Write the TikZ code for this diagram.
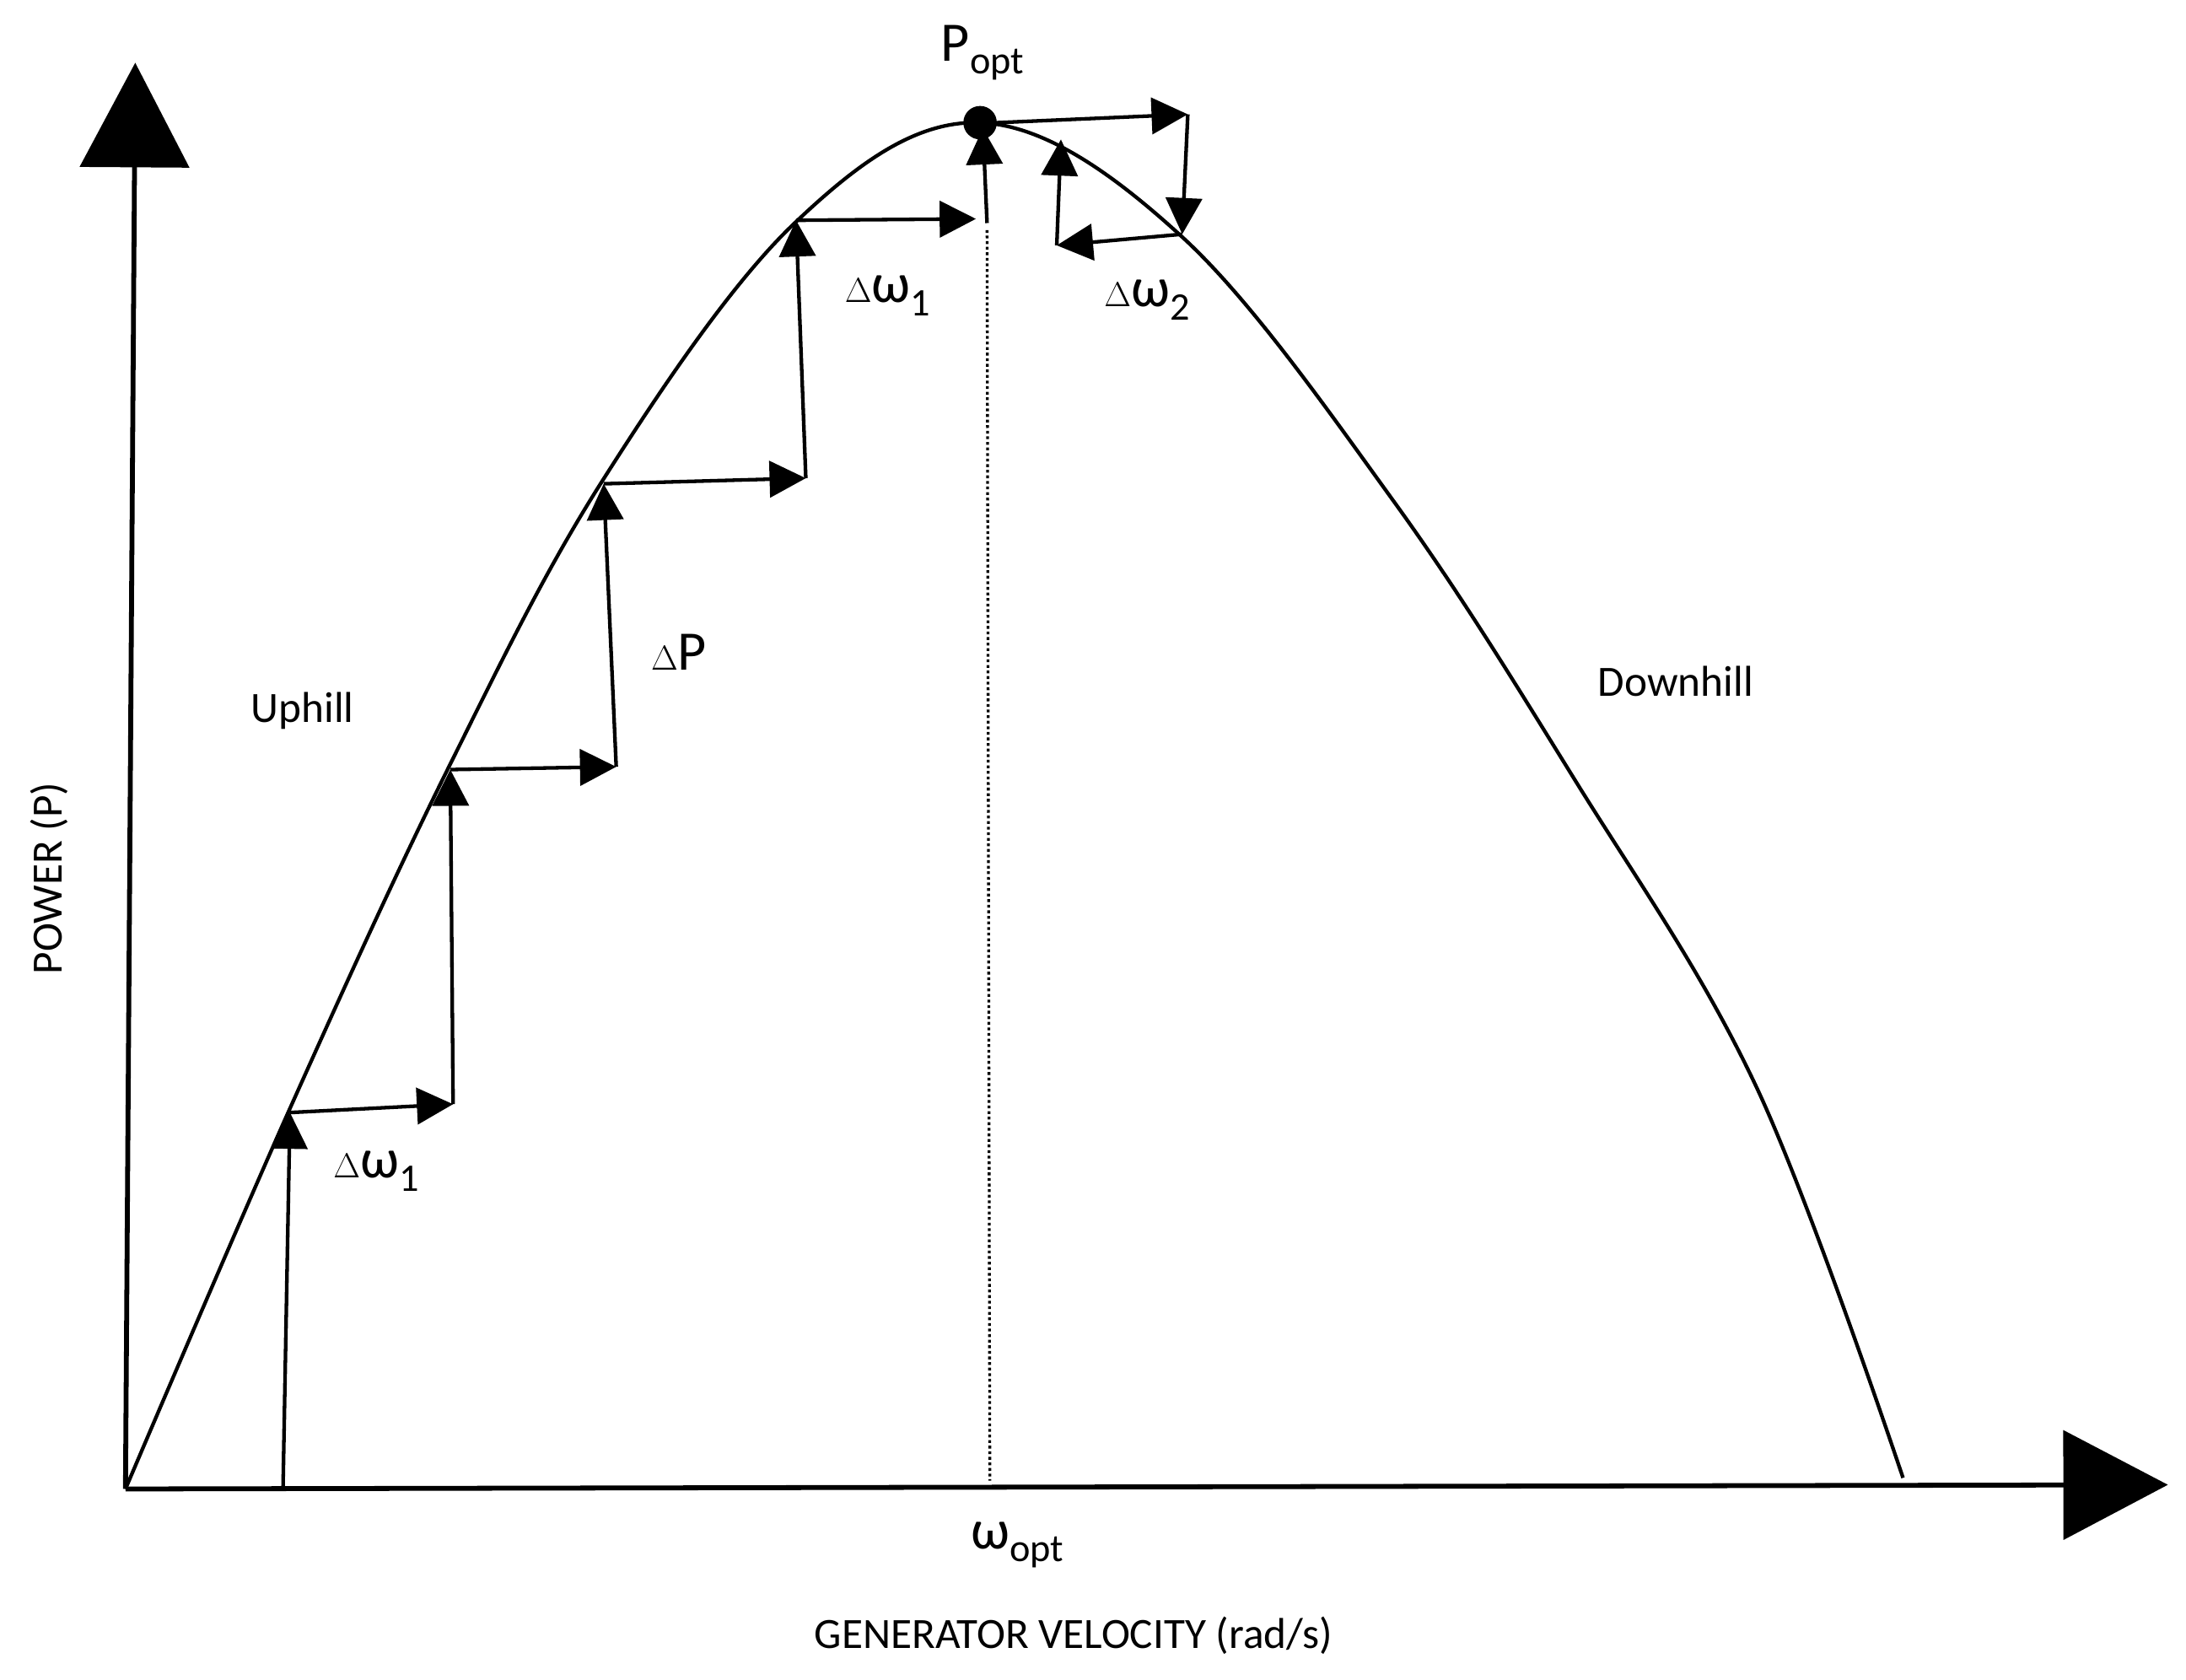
\documentclass[tikz,border=0pt]{standalone}
\usepackage{fontspec}
\setmainfont{Carlito}
\usetikzlibrary{arrows.meta}
\begin{document}
\begin{tikzpicture}[x=1pt,y=-1pt,
  ln/.style={line width=2.6pt},
  st/.style={ln,-{Triangle[length=26pt,width=26pt]}},
  ax/.style={line width=3.5pt,-{Triangle[length=75pt,width=78pt]}},
  big/.style={font=\fontsize{40}{48}\selectfont},
  sm/.style={font=\fontsize{31}{37}\selectfont}]
\useasboundingbox (0,0) rectangle (1568,1205);
\coordinate (O) at (90,1068);
\coordinate (Y) at (97,45);
\coordinate (X) at (1555,1065);
\draw[ax] (O) -- (Y);
\draw[ax] (O) -- (X);
\draw[line width=2.6pt] plot[smooth,tension=0.6] coordinates {(90,1068) (208,795) (322,550) (432,345) (570,160) (703,88) (848,170) (1000,360) (1130,560) (1260,780) (1365,1060)};
\coordinate (a0) at (203,1068); \coordinate (a1) at (208,798);
\coordinate (b1) at (325,792); \coordinate (b2) at (323,552);
\coordinate (c1) at (442,550); \coordinate (c2) at (433,347);
\coordinate (d1) at (578,343); \coordinate (d2) at (571,158);
\coordinate (e1) at (700,157); \coordinate (e2) at (705,92);
\coordinate (P) at (703,88);
\coordinate (f1) at (852,82); \coordinate (f2) at (848,168);
\coordinate (g1) at (758,176); \coordinate (g2) at (761,100);
\draw[st] (a0) -- (a1); \draw[st] (a1) -- (b1); \draw[st] (b1) -- (b2);
\draw[st] (b2) -- (c1); \draw[st] (c1) -- (c2); \draw[st] (c2) -- (d1);
\draw[st] (d1) -- (d2); \draw[st] (d2) -- (e1); \draw[st] (708,160) -- (e2);
\draw[st] (715,88) -- (f1); \draw[st] (f1) -- (f2); \draw[st] (f2) -- (g1); \draw[st] (g1) -- (g2);
\fill (P) circle (12);
\draw[line width=2pt,dotted] (708,165) -- (710,1062);
\node[big] (lp) at (705,38) {P\textsubscript{opt}};
\node[big] (l1) at (637,212) {$\Delta$ω\textsubscript{1}};
\node[big] (l2) at (823,215) {$\Delta$ω\textsubscript{2}};
\node[big] (l3) at (270,840) {$\Delta$ω\textsubscript{1}};
\node[big] (l4) at (487,468) {$\Delta$P};
\node[sm] (u) at (217,510) {Uphill};
\node[sm] (d) at (1202,489) {Downhill};
\node[big] (wo) at (730,1108) {ω\textsubscript{opt}};
\node[sm,rotate=90] (py) at (35,630) {POWER (P)};
\node[sm] (gx) at (770,1173) {GENERATOR VELOCITY (rad/s)};
\end{tikzpicture}
\end{document}
